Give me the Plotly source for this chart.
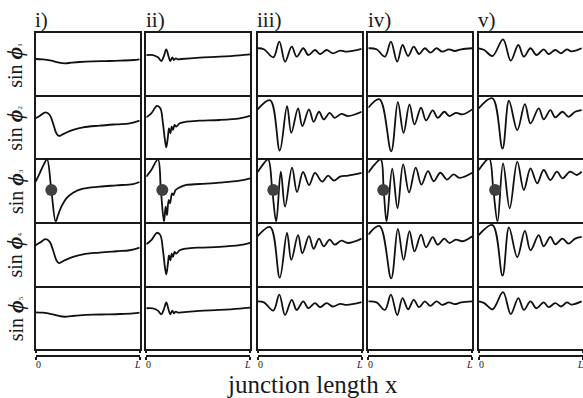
import plotly.graph_objects as go

# ---- junction-array profiles, x as a fraction of L, y = sin(phi) ----
# Column i)
I_OUTER_X = [0, 0.07, 0.15, 0.215, 0.28, 0.343, 0.423, 0.55, 0.68, 0.808, 0.936, 1]
I_OUTER_Y = [0.155, 0.144, 0.102, 0.048, 0.016, 0.037, 0.059, 0.08, 0.09, 0.102, 0.123, 0.144]
I_INNER_X = [0, 0.038, 0.096, 0.135, 0.167, 0.199, 0.224, 0.279, 0.359, 0.455, 0.615, 0.776, 0.904, 1]
I_INNER_Y = [0.263, 0.337, 0.453, 0.368, 0.105, -0.21, -0.295, -0.21, -0.105, -0.021, 0.032, 0.074, 0.105, 0.189]
I_CENTER_X = [0, 0.038, 0.077, 0.109, 0.15, 0.192, 0.215, 0.247, 0.295, 0.359, 0.455, 0.615, 0.776, 0.936, 1]
I_CENTER_Y = [0.263, 0.526, 0.8, 0.968, 0.0, -1.0, -0.789, -0.526, -0.263, -0.084, 0.042, 0.105, 0.147, 0.189, 0.253]

# Column ii)
II_OUTER_X = [0, 0.064, 0.112, 0.144, 0.167, 0.192, 0.215, 0.231, 0.25, 0.266, 0.282, 0.304, 0.337, 0.513, 0.705, 0.897, 1]
II_OUTER_Y = [0.283, 0.283, 0.209, 0.091, 0.23, 0.465, 0.23, 0.091, 0.209, 0.123, 0.176, 0.144, 0.155, 0.198, 0.23, 0.273, 0.305]
II_INNER_X = [0, 0.048, 0.103, 0.135, 0.16, 0.179, 0.192, 0.208, 0.218, 0.231, 0.244, 0.256, 0.272, 0.288, 0.321, 0.385, 0.513, 0.705, 0.897, 1]
II_INNER_Y = [0.295, 0.421, 0.653, 0.579, 0.105, -0.421, -0.653, -0.316, -0.053, -0.21, 0.0, -0.105, 0.053, 0.0, 0.105, 0.158, 0.189, 0.21, 0.263, 0.337]
II_CENTER_X = [0, 0.048, 0.112, 0.14, 0.17, 0.186, 0.199, 0.215, 0.228, 0.247, 0.26, 0.282, 0.321, 0.385, 0.513, 0.705, 0.897, 1]
II_CENTER_Y = [0.421, 0.632, 0.968, 0.0, -1.0, -0.526, -0.789, -0.316, -0.421, -0.105, -0.158, 0.0, 0.084, 0.158, 0.189, 0.232, 0.295, 0.368]

# Column iii)
III_OUTER_X = [0, 0.06, 0.15, 0.208, 0.263, 0.327, 0.375, 0.438, 0.487, 0.551, 0.599, 0.663, 0.721, 0.792, 0.856, 1]
III_OUTER_Y = [0.5, 0.47, 0.21, 0.711, 0.069, 0.55, 0.23, 0.5, 0.284, 0.445, 0.316, 0.445, 0.339, 0.422, 0.39, 0.477]
III_INNER_X = [0, 0.121, 0.212, 0.282, 0.323, 0.388, 0.429, 0.493, 0.538, 0.589, 0.635, 0.692, 0.74, 0.804, 0.868, 1]
III_INNER_Y = [0.546, 0.832, -0.756, 0.651, -0.197, 0.578, 0.016, 0.546, 0.152, 0.47, 0.229, 0.438, 0.279, 0.406, 0.333, 0.47]
III_CENTER_X = [0, 0.05, 0.1, 0.14, 0.178, 0.222, 0.263, 0.33, 0.378, 0.436, 0.494, 0.551, 0.619, 0.676, 0.734, 0.792, 0.869, 1]
III_CENTER_Y = [0.568, 0.8, 0.968, 0.0, -1.0, 0.579, -0.526, 0.705, -0.063, 0.568, 0.158, 0.537, 0.263, 0.453, 0.295, 0.421, 0.453, 0.537]

# Column iv)
IV_OUTER_X = [0, 0.08, 0.16, 0.217, 0.278, 0.329, 0.383, 0.437, 0.488, 0.543, 0.597, 0.655, 0.712, 0.775, 0.83, 0.894, 1]
IV_OUTER_Y = [0.5, 0.467, 0.23, 0.711, 0.069, 0.605, 0.252, 0.55, 0.316, 0.5, 0.358, 0.5, 0.39, 0.467, 0.413, 0.467, 0.5]
IV_INNER_X = [0, 0.109, 0.22, 0.284, 0.339, 0.396, 0.444, 0.507, 0.555, 0.619, 0.667, 0.731, 0.779, 0.842, 0.906, 1]
IV_INNER_Y = [0.597, 0.863, -0.778, 0.778, -0.197, 0.705, 0.07, 0.597, 0.197, 0.514, 0.279, 0.47, 0.333, 0.438, 0.387, 0.546]
IV_CENTER_X = [0, 0.06, 0.119, 0.148, 0.176, 0.23, 0.281, 0.335, 0.392, 0.456, 0.511, 0.574, 0.629, 0.693, 0.756, 0.82, 0.877, 1]
IV_CENTER_Y = [0.544, 0.8, 0.968, 0.0, -1.0, 0.671, -0.573, 0.809, -0.075, 0.703, 0.171, 0.595, 0.276, 0.544, 0.33, 0.49, 0.384, 0.544]

# Column v)
V_OUTER_X = [0, 0.053, 0.133, 0.234, 0.308, 0.381, 0.434, 0.498, 0.555, 0.625, 0.672, 0.736, 0.793, 0.848, 0.891, 0.99]
V_OUTER_Y = [0.5, 0.445, 0.252, 0.788, 0.101, 0.605, 0.23, 0.5, 0.284, 0.467, 0.316, 0.445, 0.339, 0.467, 0.4, 0.5]
V_INNER_X = [0, 0.133, 0.229, 0.291, 0.371, 0.444, 0.498, 0.577, 0.625, 0.689, 0.736, 0.806, 0.863, 0.927, 0.99]
V_INNER_Y = [0.578, 0.895, -0.692, 0.819, -0.111, 0.714, 0.102, 0.578, 0.229, 0.524, 0.292, 0.47, 0.311, 0.47, 0.524]
V_CENTER_X = [0, 0.05, 0.101, 0.141, 0.181, 0.234, 0.298, 0.371, 0.434, 0.498, 0.562, 0.625, 0.689, 0.752, 0.806, 0.879, 0.943, 0.99]
V_CENTER_Y = [0.631, 0.85, 1.0, 0.0, -1.0, 0.842, -0.577, 0.893, 0.0, 0.685, 0.211, 0.631, 0.315, 0.577, 0.369, 0.577, 0.473, 0.577]

# position of the driven junction marker in the middle row
DOT_X = [0.15, 0.154, 0.15, 0.144, 0.158]
DOT_Y = [0.0, 0.0, 0.0, 0.0, 0.0]

COLUMN_LABELS = ["i)", "ii)", "iii)", "iv)", "v)"]
ROW_INDICES = ["1", "2", "3", "4", "5"]
RULER_TICKS = [0, 1]
RULER_TEXT = ["0", "<i>L</i>"]
X_TITLE = "junction length x"

COLUMNS = [
    ((I_OUTER_X, I_OUTER_Y), (I_INNER_X, I_INNER_Y), (I_CENTER_X, I_CENTER_Y)),
    ((II_OUTER_X, II_OUTER_Y), (II_INNER_X, II_INNER_Y), (II_CENTER_X, II_CENTER_Y)),
    ((III_OUTER_X, III_OUTER_Y), (III_INNER_X, III_INNER_Y), (III_CENTER_X, III_CENTER_Y)),
    ((IV_OUTER_X, IV_OUTER_Y), (IV_INNER_X, IV_INNER_Y), (IV_CENTER_X, IV_CENTER_Y)),
    ((V_OUTER_X, V_OUTER_Y), (V_INNER_X, V_INNER_Y), (V_CENTER_X, V_CENTER_Y)),
]
# rows 1..5: outer, inner, center, inner, outer
ROW_PROFILE = [0, 1, 2, 1, 0]

# ---- geometry (pixels) ----
W, H = 583, 398
COL_LEFT = [35.7, 146.3, 257.7, 368.3, 478.7]
COL_W = 104.0
ROW_EDGES = [32.7, 95.0, 158.3, 221.7, 285.5, 349.0]
RULER_Y = 354.5
RULER_LABEL_Y = 364.5
RULER_LABEL_INSET = [2.5, -2.5]

SERIF = "Liberation Serif"
INK = "#1a1a1a"

def px_x(p):
    return max(0.0, min(1.0, p / W))

def px_y(p):
    return max(0.0, min(1.0, 1 - p / H))

fig = go.Figure()
layout = dict(
    width=W, height=H, autosize=False,
    margin=dict(l=0, r=0, t=0, b=0),
    paper_bgcolor="white", plot_bgcolor="rgba(0,0,0,0)",
    showlegend=False,
)
annotations = []

k = 0
for c in range(5):
    x0 = px_x(COL_LEFT[c])
    x1 = px_x(COL_LEFT[c] + COL_W)
    xmax = (min(COL_LEFT[c] + COL_W, W) - COL_LEFT[c]) / COL_W
    for r in range(5):
        k += 1
        xa = "xaxis" if k == 1 else f"xaxis{k}"
        ya = "yaxis" if k == 1 else f"yaxis{k}"
        xr = "x" if k == 1 else f"x{k}"
        yr = "y" if k == 1 else f"y{k}"
        # stacked panels share one horizontal rule: only the top row mirrors
        layout[xa] = dict(
            domain=[x0, x1], anchor=yr, range=[0, xmax],
            showline=True, mirror=(r == 0), linecolor=INK, linewidth=2,
            showgrid=False, zeroline=False, showticklabels=False, ticks="",
            fixedrange=True,
        )
        layout[ya] = dict(
            domain=[px_y(ROW_EDGES[r + 1]), px_y(ROW_EDGES[r])], anchor=xr,
            range=[-1, 1],
            showline=True, mirror=(c < 4), linecolor=INK, linewidth=2,
            showgrid=False, zeroline=False, showticklabels=False, ticks="",
            fixedrange=True,
        )
        px_, py_ = COLUMNS[c][ROW_PROFILE[r]]
        fig.add_trace(go.Scatter(
            x=px_, y=py_, mode="lines", xaxis=xr, yaxis=yr,
            line=dict(color="#111111", width=1.8, shape="spline", smoothing=1.0),
            hoverinfo="skip",
        ))
        if r == 2:
            fig.add_trace(go.Scatter(
                x=[DOT_X[c]], y=[DOT_Y[c]], mode="markers", xaxis=xr, yaxis=yr,
                marker=dict(color="#404040", size=12, line=dict(width=0)),
                cliponaxis=False, hoverinfo="skip",
            ))

# rulers with 0 ... L beneath each column
for c in range(5):
    k += 1
    xr = f"x{k}"
    yr = f"y{k}"
    x0 = px_x(COL_LEFT[c])
    x1 = px_x(COL_LEFT[c] + COL_W)
    xmax = (min(COL_LEFT[c] + COL_W, W) - COL_LEFT[c]) / COL_W
    layout[f"xaxis{k}"] = dict(
        domain=[x0, x1], anchor=yr, range=[0, xmax],
        showline=True, mirror=False, linecolor=INK, linewidth=2,
        ticks="outside", ticklen=3, tickwidth=1.6, tickcolor=INK,
        tickvals=RULER_TICKS, showticklabels=False,
        showgrid=False, zeroline=False, fixedrange=True,
    )
    layout[f"yaxis{k}"] = dict(
        domain=[px_y(RULER_Y), px_y(RULER_Y) + 0.002], anchor=xr,
        visible=False, range=[0, 1], fixedrange=True,
    )
    # upward half of the end ticks
    k2 = k + 100
    layout[f"xaxis{k2}"] = dict(
        domain=[x0, x1], anchor=yr, overlaying=xr, side="top", range=[0, xmax],
        showline=False, ticks="outside", ticklen=3, tickwidth=1.6, tickcolor=INK,
        tickvals=RULER_TICKS, showticklabels=False,
        showgrid=False, zeroline=False, fixedrange=True,
    )
    fig.add_trace(go.Scatter(x=[None], y=[None], xaxis=xr, yaxis=yr,
                             mode="lines", hoverinfo="skip"))
    fig.add_trace(go.Scatter(x=[None], y=[None], xaxis=f"x{k2}", yaxis=yr,
                             mode="lines", hoverinfo="skip"))
    # tick labels, nudged inward from the end ticks
    for tv, tt, sh in zip(RULER_TICKS, RULER_TEXT, RULER_LABEL_INSET):
        annotations.append(dict(
            text=tt, xref="paper", yref="paper",
            x=px_x(COL_LEFT[c] + tv * COL_W + sh), y=px_y(RULER_LABEL_Y),
            xanchor="center", yanchor="middle", showarrow=False,
            font=dict(family=SERIF, size=10, color=INK),
        ))

# column titles
for c, lab in enumerate(COLUMN_LABELS):
    annotations.append(dict(
        text=lab, xref="paper", yref="paper",
        x=px_x(COL_LEFT[c] - 2.5), y=px_y(20), xanchor="left", yanchor="middle",
        showarrow=False, font=dict(family=SERIF, size=21, color=INK),
    ))

# row labels
for r, idx in enumerate(ROW_INDICES):
    yc = (ROW_EDGES[r] + ROW_EDGES[r + 1]) / 2 + 2
    annotations.append(dict(
        text=("sin <b><i><span style='font-size:22px'>\u03d5</span></i></b>"
              f"<span style='font-size:7px'>{idx}</span>"),
        xref="paper", yref="paper", x=px_x(15), y=px_y(yc),
        xanchor="center", yanchor="middle", textangle=-90, showarrow=False,
        font=dict(family=SERIF, size=20, color=INK),
    ))

annotations.append(dict(
    text=X_TITLE, xref="paper", yref="paper",
    x=px_x(312.5), y=px_y(384), xanchor="center", yanchor="middle",
    showarrow=False, font=dict(family=SERIF, size=25, color=INK),
))

layout["annotations"] = annotations
fig.update_layout(**layout)
fig.write_html("out.html")
